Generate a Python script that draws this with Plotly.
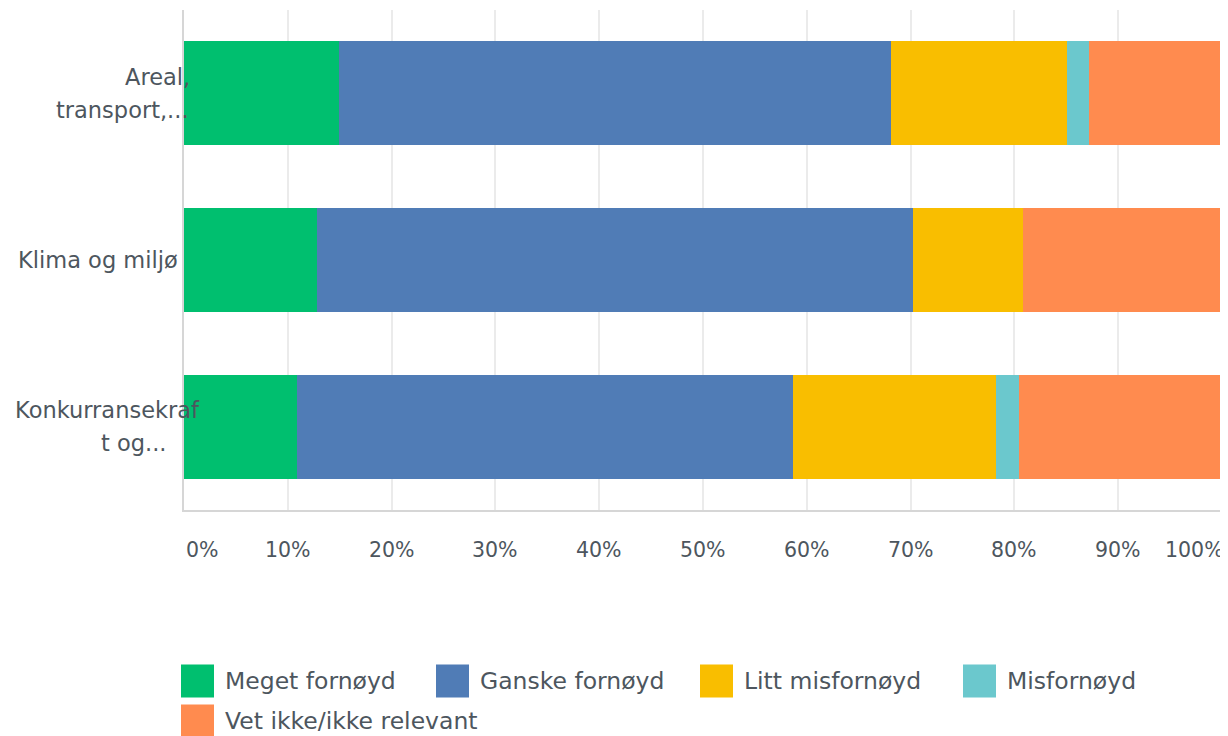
import plotly.graph_objects as go

# data (percent of respondents)
categories = ["Areal,<br>transport,...", "Klima og miljø", "Konkurransekraf<br>t og..."]
series = ["Meget fornøyd", "Ganske fornøyd", "Litt misfornøyd", "Misfornøyd", "Vet ikke/ikke relevant"]
meget_fornoyd = [14.89, 12.77, 10.87]
ganske_fornoyd = [53.19, 57.45, 47.83]
litt_misfornoyd = [17.02, 10.64, 19.57]
misfornoyd = [2.13, 0.0, 2.17]
vet_ikke = [12.77, 19.15, 19.57]
tick_vals = [0, 10, 20, 30, 40, 50, 60, 70, 80, 90, 100]
tick_text = ["0%", "10%", "20%", "30%", "40%", "50%", "60%", "70%", "80%", "90%", "100%"]

colors = ["#00bf6f", "#507cb6", "#f9be00", "#6bc8cd", "#ff8b4f"]
values = [meget_fornoyd, ganske_fornoyd, litt_misfornoyd, misfornoyd, vet_ikke]
text_color = "#4d565e"
font_family = "DejaVu Sans"

W, H = 1228, 736
L, R, T, B = 184, 6, 10, 226
OFF = 8  # default body margin of the html page

# right edge (page px) of each wrapped label line, as the reference wraps them unevenly
label_right = [[192, 191], [180], [202, 168]]


def px(x):
    return (x - L) / (W - L - R)


def py(y):
    return (H - B - y) / (H - T - B)


fig = go.Figure()
for name, vals, col in zip(series, values, colors):
    fig.add_trace(go.Bar(
        y=categories, x=vals, name=name, orientation="h",
        marker=dict(color=col, line=dict(width=0)),
        showlegend=False, hoverinfo="x+name"
    ))

annotations = []
# category labels
for cat, rights in zip(categories, label_right):
    lines = cat.split("<br>")
    n = len(lines)
    for i, (line, rx) in enumerate(zip(lines, rights)):
        annotations.append(dict(
            x=px(rx), xref="paper", y=cat, yref="y",
            xanchor="right", yanchor="middle", showarrow=False,
            yshift=(n - 1) * 16.5 - i * 33,
            text=line, font=dict(size=22.5, color=text_color, family=font_family)
        ))

# x tick labels, end labels pulled inwards like the reference
for v, t in zip(tick_vals, tick_text):
    shift = 18 if v == 0 else (-28 if v == 100 else 0)
    annotations.append(dict(
        x=v, xref="x", y=py(550), yref="paper", xshift=shift,
        xanchor="center", yanchor="middle", showarrow=False,
        text=t, font=dict(size=20.5, color=text_color, family=font_family)
    ))

# legend drawn by hand to get the large swatches
legend_pos = [(181, 681), (436, 681), (700, 681), (963, 681), (181, 721)]
shapes = []
for (lx, ly), name, col in zip(legend_pos, series, colors):
    shapes.append(dict(
        type="rect", xref="paper", yref="paper",
        x0=px(lx), x1=px(lx + 33), y0=py(ly + 16.5), y1=py(ly - 16.5),
        fillcolor=col, line=dict(width=0), layer="above"
    ))
    annotations.append(dict(
        x=px(lx + 42), xref="paper", y=py(ly), yref="paper",
        xanchor="left", yanchor="middle", showarrow=False,
        text=name, font=dict(size=23.5, color=text_color, family=font_family)
    ))

fig.update_layout(
    width=W - OFF, height=H - OFF,
    margin=dict(l=L - OFF, r=R, t=T - OFF, b=B),
    barmode="stack", bargap=0.376,
    plot_bgcolor="white", paper_bgcolor="white",
    font=dict(family=font_family, color=text_color),
    xaxis=dict(
        range=[0, 100], tickvals=tick_vals, showticklabels=False,
        showgrid=True, gridcolor="#ebebeb", gridwidth=1.5,
        showline=True, linecolor="#d6d6d6", linewidth=2,
        zeroline=False, fixedrange=True
    ),
    yaxis=dict(
        autorange="reversed", showticklabels=False,
        showgrid=False, showline=True, linecolor="#d6d6d6", linewidth=2,
        fixedrange=True
    ),
    annotations=annotations, shapes=shapes,
)

fig.write_html("out.html")
